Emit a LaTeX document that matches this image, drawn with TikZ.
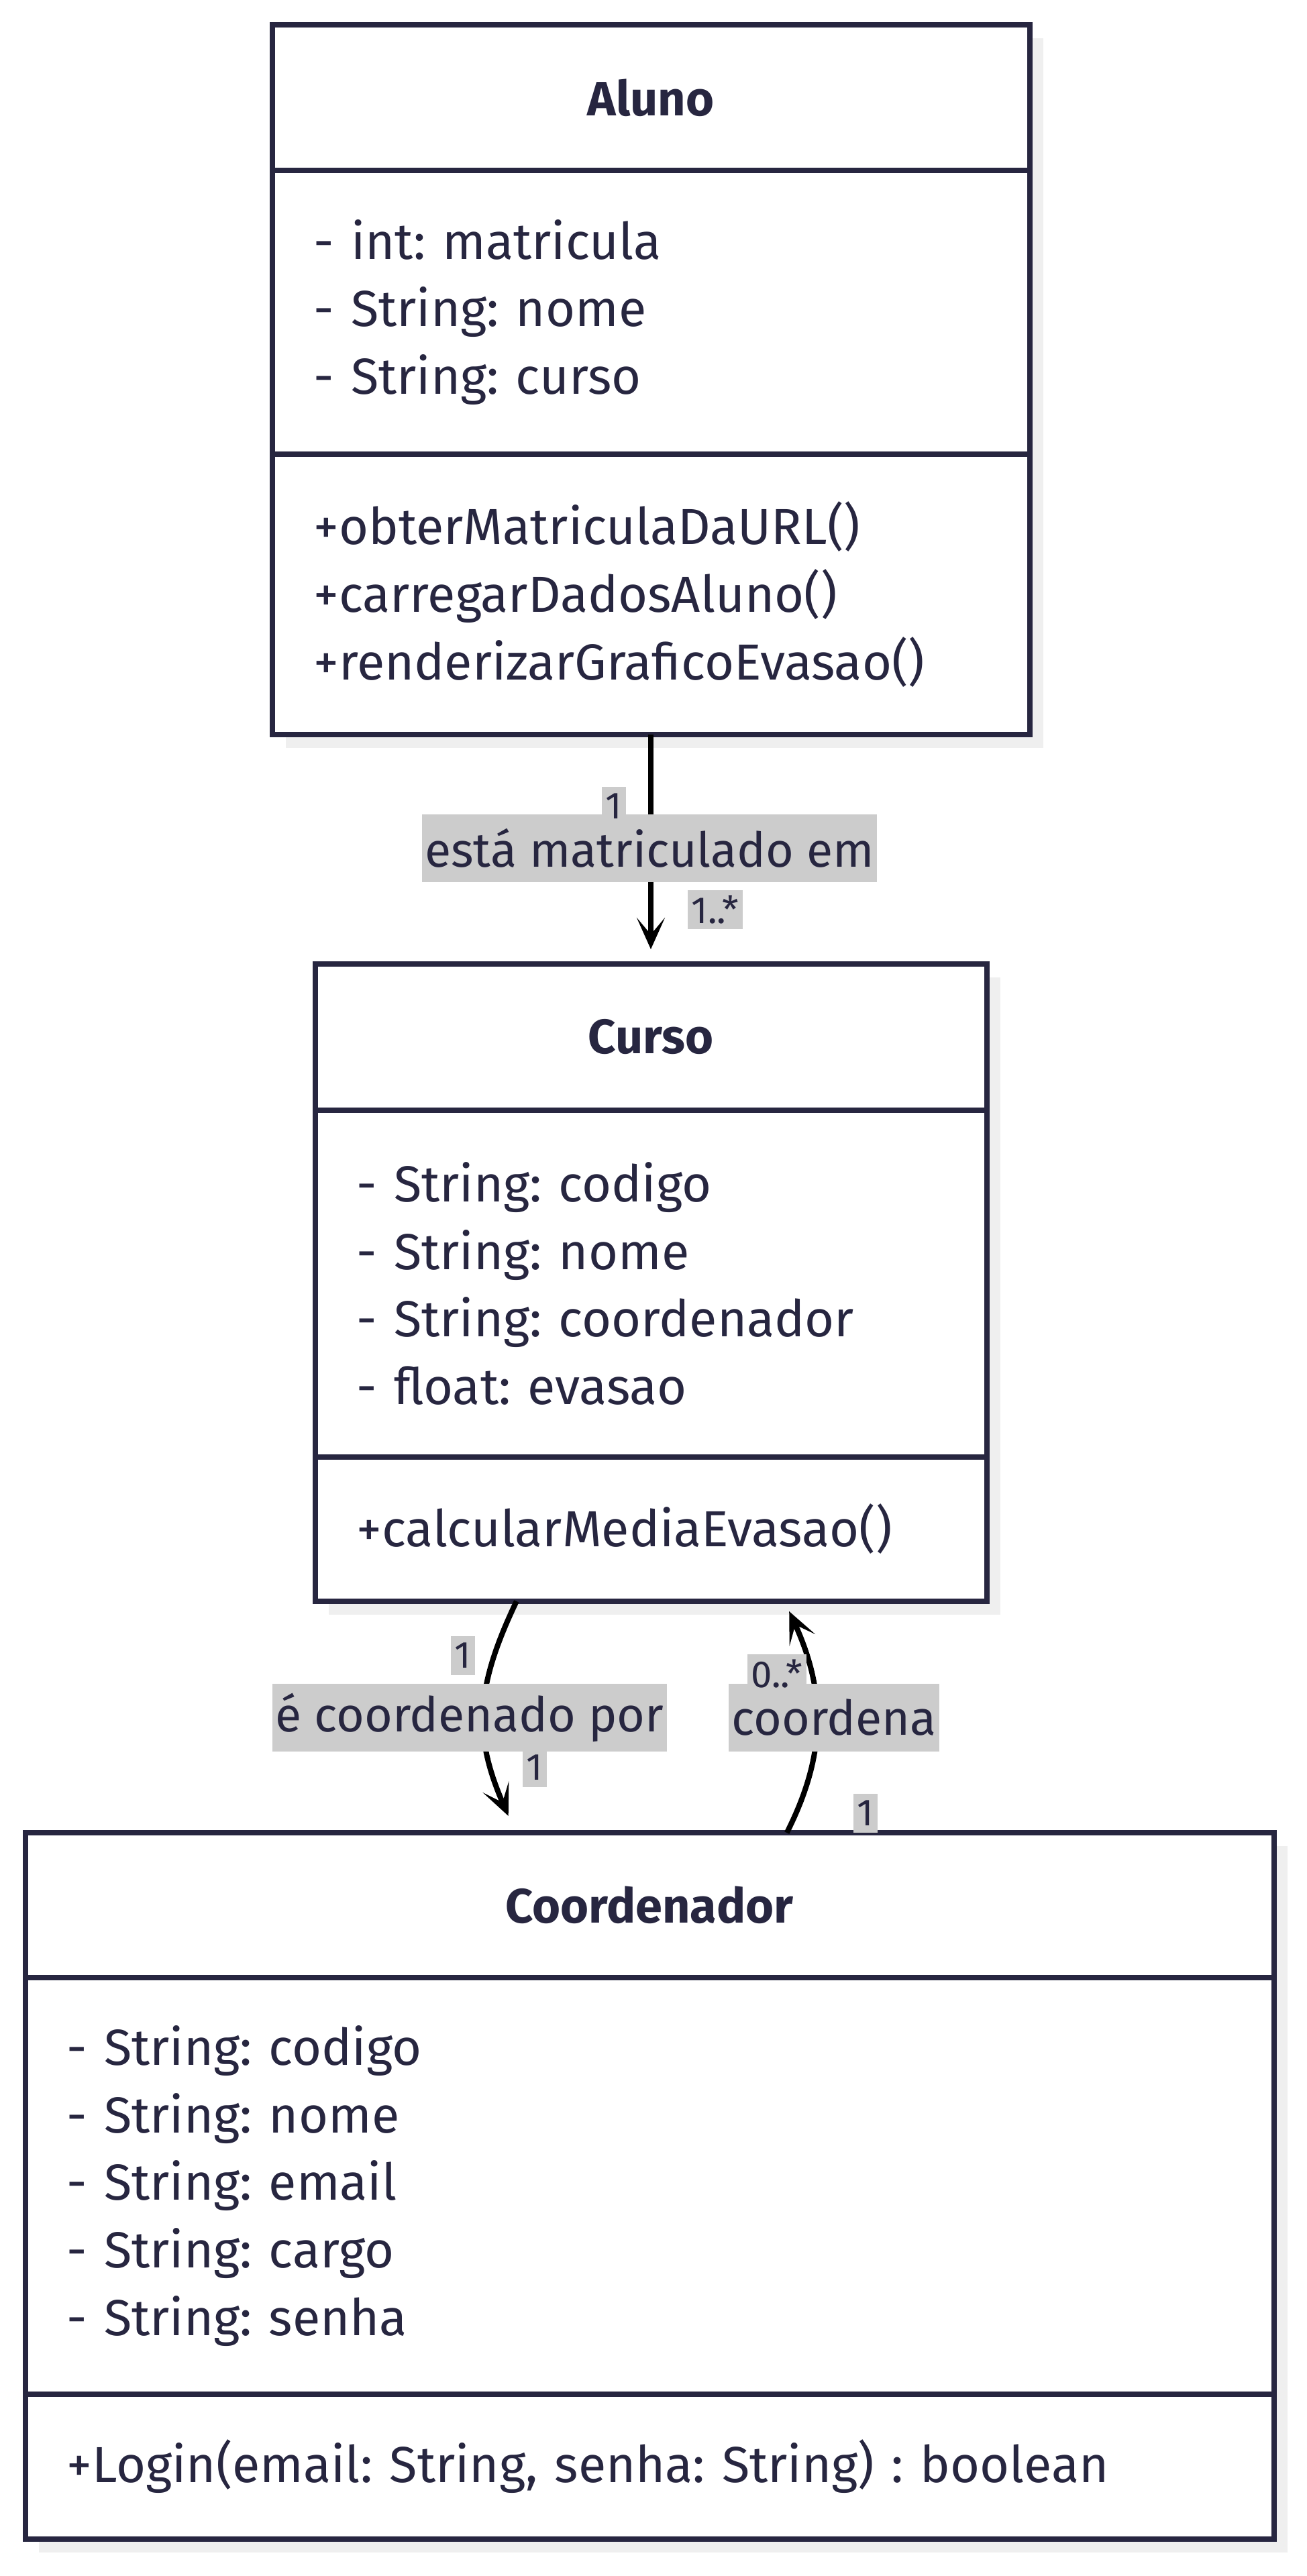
\documentclass[tikz,border=0pt]{standalone}
\usepackage{fontspec}
\setmainfont{Fira Sans}
\usepackage{xcolor}
\usetikzlibrary{calc,positioning,shadows,arrows.meta}
\definecolor{umlink}{HTML}{272640}
\definecolor{umlgray}{HTML}{CCCCCC}
\definecolor{umlshadow}{HTML}{EFEFEF}
\frenchspacing

\begin{document}
\begin{tikzpicture}
    [line join=miter,
     classpart/.style={draw=umlink, line width=0.08cm, fill=white, text=umlink,
       inner xsep=0.62cm, inner ysep=0cm, outer sep=0cm,
       font=\fontsize{21.5}{28.7}\selectfont,
       drop shadow={shadow xshift=0.2cm, shadow yshift=-0.2cm, fill=umlshadow, opacity=1}},
     classname/.style={classpart, font=\fontsize{20.5}{28.7}\selectfont\bfseries, align=center},
     classbody/.style={classpart, align=left},
     assoc/.style={draw=black, line width=0.08cm, -{Stealth[length=0.47cm, width=0.42cm, inset=0.25cm]}},
     assoclabel/.style={fill=umlgray, text=umlink, inner xsep=0.04cm, inner ysep=0cm,
       minimum height=1.01cm, font=\fontsize{20.4}{24}\selectfont},
     multlabel/.style={fill=umlgray, text=umlink, inner xsep=0.06cm, inner ysep=0cm,
       minimum height=0.58cm, font=\fontsize{16}{16}\selectfont}]

    \useasboundingbox (0,0) rectangle (19.47,-38.40);

    % Aluno
    \node[classname, text width=10.05cm, minimum height=2.17cm, anchor=north] (aluno) at (9.70,-0.37) {Aluno};
    \node[classbody, text width=10.05cm, minimum height=4.23cm, below=0cm of aluno] (alunoattr)
      {- int: matricula\\- String: nome\\- String: curso};
    \node[classbody, text width=10.05cm, minimum height=4.18cm, below=0cm of alunoattr] (alunometh)
      {+obterMatriculaDaURL()\\+carregarDadosAluno()\\+renderizarGraficoEvasao()};

    % Curso
    \node[classname, text width=8.77cm, minimum height=2.18cm, anchor=north] (curso) at (9.70,-14.37) {Curso};
    \node[classbody, text width=8.77cm, minimum height=5.17cm, below=0cm of curso] (cursoattr)
      {- String: codigo\\- String: nome\\- String: coordenador\\- float: evasao};
    \node[classbody, text width=8.77cm, minimum height=2.15cm, below=0cm of cursoattr] (cursometh)
      {+calcularMediaEvasao()};

    % Coordenador
    \node[classname, text width=17.37cm, minimum height=2.16cm, anchor=north] (coord) at (9.68,-27.32) {Coordenador};
    \node[classbody, text width=17.37cm, minimum height=6.21cm, below=0cm of coord] (coordattr)
      {- String: codigo\\- String: nome\\- String: email\\- String: cargo\\- String: senha};
    \node[classbody, text width=17.37cm, minimum height=2.16cm, below=0cm of coordattr] (coordmeth)
      {+Login(email: String, senha: String) : boolean};

    % associations
    \coordinate (alunoout) at (alunometh.south);
    \coordinate (cursoin) at ($(curso.north)+(0,0.22)$);
    \coordinate (cursoout) at ($(cursometh.south west)!0.30!(cursometh.south east)$);
    \coordinate (coordin) at ($(coord.north west)!0.387!(coord.north east)+(0,0.25)$);
    \coordinate (coordout) at ($(coord.north west)!0.61!(coord.north east)$);
    \coordinate (cursoback) at ($(cursometh.south west)!0.706!(cursometh.south east)+(0,-0.15)$);

    \draw[assoc] (alunoout) -- (cursoin);
    \draw[assoc] (cursoout) .. controls +(-0.62,-1.30) and +(-0.52,1.20) .. (coordin);
    \draw[assoc] (coordout) .. controls +(0.58,1.15) and +(0.56,-1.22) .. (cursoback);

    \node[assoclabel] (matricula) at (9.68,-12.64) {está matriculado em};
    \node[multlabel] (m1) at (9.15,-12.02) {1};
    \node[multlabel] (m2) at (10.66,-13.56) {1..*};

    \node[assoclabel] (coordpor) at (7.00,-25.60) {é coordenado por};
    \node[multlabel] (m3) at (6.90,-24.68) {1};
    \node[multlabel] (m4) at (7.97,-26.35) {1};

    \node[assoclabel] (coordena) at (12.43,-25.60) {coordena};
    \node[multlabel] (m5) at (11.58,-24.95) {0..*};
    \node[multlabel] (m6) at (12.90,-27.03) {1};
\end{tikzpicture}
\end{document}
